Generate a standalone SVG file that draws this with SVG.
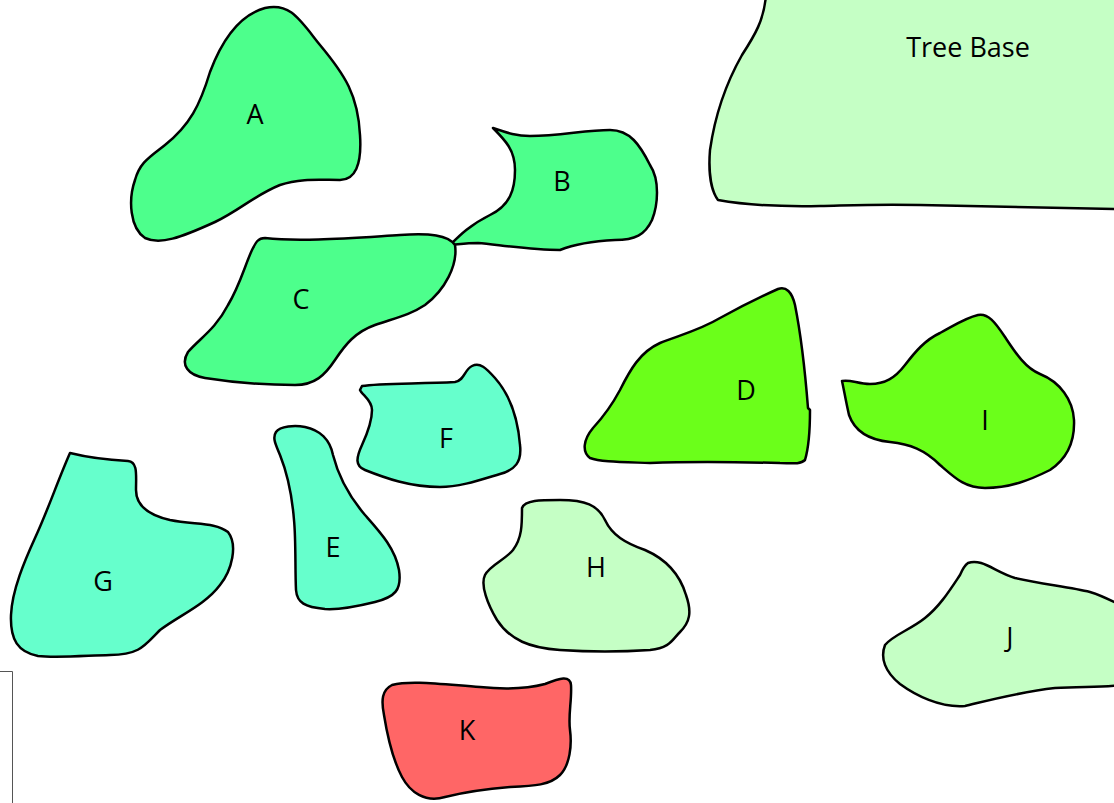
<svg xmlns="http://www.w3.org/2000/svg" width="1114" height="803" viewBox="0 0 1114 803">
<style>
.s{stroke:#000;stroke-width:2.5;stroke-linejoin:round}
.g1{fill:#4dff8c}
.g2{fill:#6bff1a}
.g3{fill:#66ffcc}
.g4{fill:#c5ffc5}
.r{fill:#ff6666}
text{font-family:"Open Sans","Liberation Sans",sans-serif;font-size:27px;fill:#000;text-anchor:middle}
</style>
<rect width="1114" height="803" fill="#fff"/>
<path d="M0,671.5 H12.5 V803" fill="none" stroke="#555" stroke-width="1"/>
<g id="TreeBase">
<path class="s g4" d="M766,-5 C764,20 755,35 742,55 C725,85 715,115 710,150 C708,175 712,192 718,200 C740,204 770,207 820,206 C860,205 880,204 920,205 C980,206 1050,208 1120,209 L1120,-5 Z"/>
<text x="968" y="57">Tree Base</text>
</g>
<g id="A">
<path class="s g1" d="M265,8 C290,2 300,20 320,45 C345,75 358,95 360,135 C362,165 355,180 340,180 C320,180 300,178 280,185 C255,195 240,210 215,222 C180,238 160,245 145,238 C130,228 128,200 135,180 C140,162 150,157 165,145 C190,125 200,105 210,72 C222,40 240,15 265,8 Z"/>
<text x="255" y="124">A</text>
</g>
<g id="B">
<path class="s g1" d="M493,128 C505,132 515,136 530,136 C560,136 585,130 610,130 C630,130 640,145 650,165 C660,180 658,205 652,220 C645,235 635,240 615,240 C595,241 575,244 560,250 C530,250 500,245 478,243 C465,243 455,245 450,245 C460,235 470,225 490,215 C510,205 515,190 515,170 C515,150 505,140 493,128 Z"/>
<text x="562" y="191">B</text>
</g>
<g id="C">
<path class="s g1" d="M265,238 C300,242 350,238 400,235 C430,233 448,235 455,245 C458,265 445,290 425,305 C410,315 395,318 375,325 C355,332 345,345 335,360 C325,375 315,385 295,385 C260,385 230,382 205,378 C188,375 180,365 188,352 C200,338 215,330 228,305 C240,285 245,265 252,250 C256,242 258,238 265,238 Z"/>
<text x="301" y="309">C</text>
</g>
<g id="D">
<path class="s g2" d="M778,289 C786,286 792,292 795,305 C800,330 805,370 808,408 L810,410 C810,430 808,450 805,460 C800,465 790,463 780,463 C740,462 700,461 650,463 C620,462 600,462 590,458 C582,452 583,440 593,428 C605,415 612,405 620,390 C630,370 640,352 660,343 C680,335 700,330 720,318 C740,307 760,297 778,289 Z"/>
<text x="746" y="400">D</text>
</g>
<g id="I">
<path class="s g2" d="M842,381 C850,379 858,384 870,384 C885,384 895,378 905,365 C915,352 925,340 940,333 C955,325 965,318 978,315 C988,313 995,322 1005,337 C1015,352 1025,368 1040,374 C1060,382 1073,400 1074,420 C1075,445 1065,460 1050,470 C1030,480 1010,488 985,488 C965,488 955,478 940,465 C925,450 910,444 890,442 C870,440 855,432 849,415 C846,402 844,390 842,381 Z"/>
<text x="985" y="430">I</text>
</g>
<g id="F">
<path class="s g3" d="M362,386 C380,383 420,384 455,382 C465,380 464,370 472,366 C480,362 486,368 495,378 C510,395 518,420 520,445 C522,462 515,470 500,474 C480,480 460,487 440,487 C410,487 385,478 365,470 C355,466 356,458 362,445 C368,432 372,420 372,410 C372,400 362,395 360,390 Z"/>
<text x="446" y="448">F</text>
</g>
<g id="E">
<path class="s g3" d="M276,432 C280,426 295,425 305,427 C320,430 330,440 333,455 C338,475 348,495 365,515 C380,532 395,548 399,570 C402,590 395,597 375,602 C355,607 340,610 325,609 C305,607 297,603 296,590 C295,570 296,540 294,520 C292,495 288,475 280,455 C276,445 272,438 276,432 Z"/>
<text x="333" y="557">E</text>
</g>
<g id="G">
<path class="s g3" d="M70,453 C90,458 110,460 128,461 C138,462 136,475 136,490 C136,505 148,515 170,520 C195,525 215,522 228,532 C238,545 232,570 220,585 C205,605 180,615 160,630 C145,645 140,655 110,655 C80,656 55,658 38,656 C18,652 10,640 11,615 C12,590 25,560 35,538 C48,510 58,480 70,453 Z"/>
<text x="103" y="591">G</text>
</g>
<g id="H">
<path class="s g4" d="M522,508 C525,500 540,500 560,500 C585,500 598,505 605,520 C612,535 625,543 645,550 C668,560 680,575 686,595 C692,612 690,622 680,632 C672,640 670,648 650,650 C620,652 590,652 560,650 C530,648 510,640 497,620 C488,605 480,585 485,575 C490,565 505,560 513,550 C522,538 522,525 522,508 Z"/>
<text x="596" y="577">H</text>
</g>
<g id="J">
<path class="s g4" d="M968,563 C982,558 995,572 1015,578 C1040,584 1070,587 1090,592 C1103,596 1110,600 1120,605 L1120,685 C1100,688 1080,686 1055,688 C1020,692 990,700 965,706 C940,708 915,695 900,684 C885,672 880,658 885,645 C893,635 910,630 925,618 C940,606 950,590 960,575 C963,568 965,565 968,563 Z"/>
<text x="1010" y="647">J</text>
</g>
<g id="K">
<path class="s r" d="M392,685 C410,680 440,684 480,687 C510,690 530,688 545,684 C560,678 570,675 571,685 C572,700 568,715 570,730 C572,745 570,765 560,775 C550,785 535,786 510,787 C485,789 465,792 445,797 C425,803 410,792 402,777 C393,760 388,740 384,715 C381,700 382,690 392,685 Z"/>
<text x="467" y="740">K</text>
</g>
<g id="connectors"></g>
</svg>
